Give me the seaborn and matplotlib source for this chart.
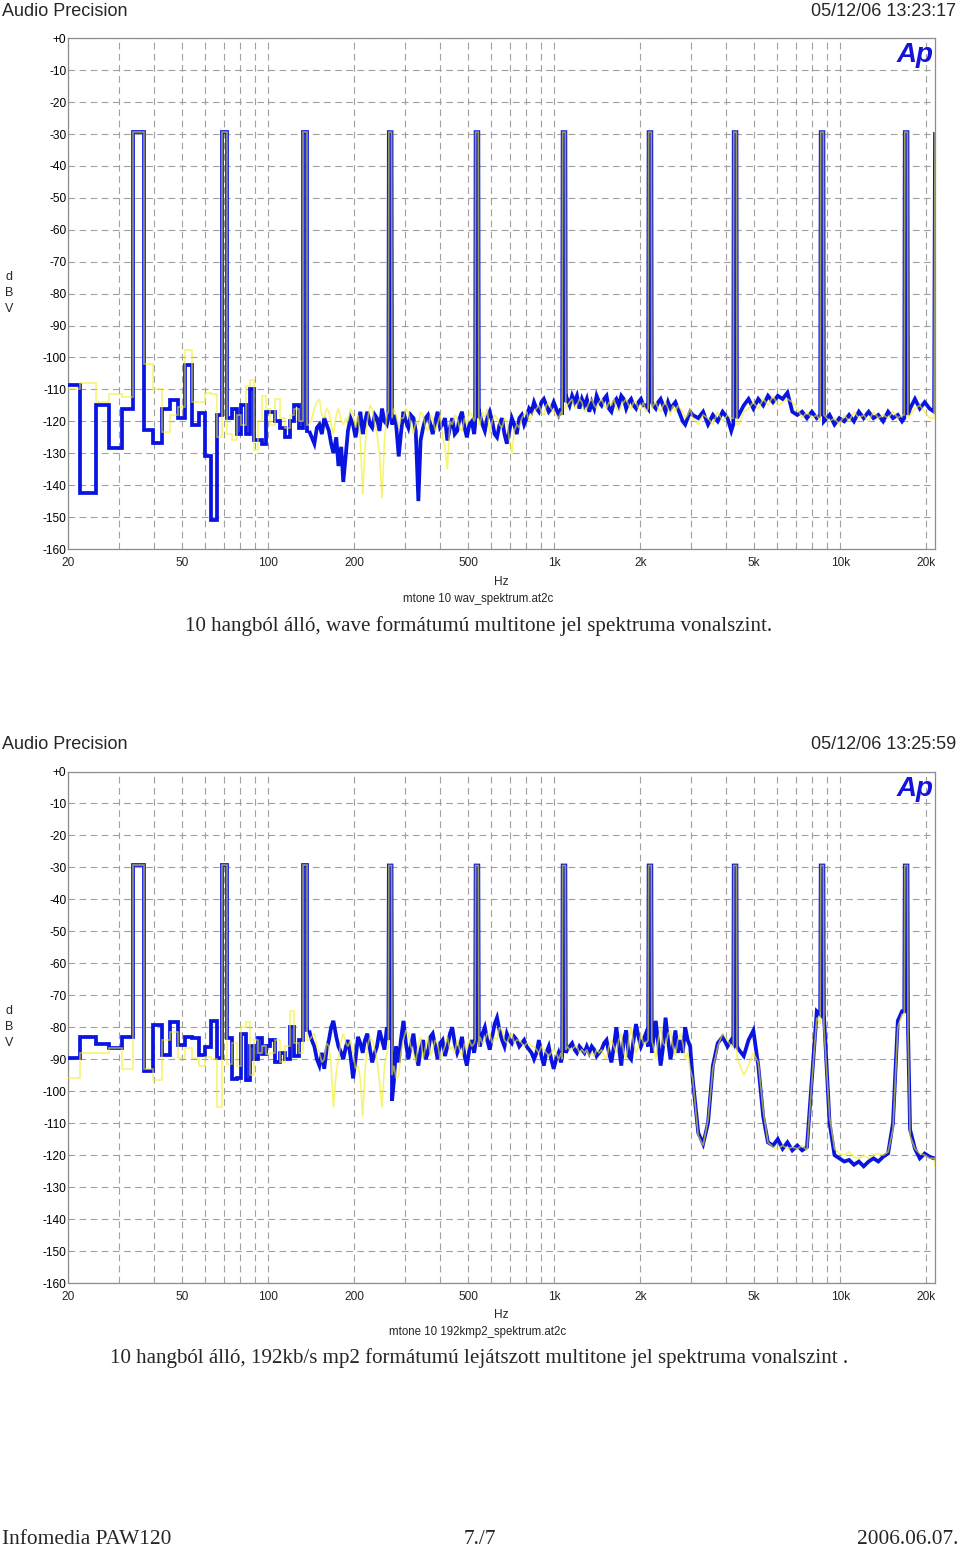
import numpy as np
import pandas as pd
import matplotlib
matplotlib.use('Agg')
import matplotlib.pyplot as plt
import matplotlib.ticker as mticker
import seaborn as sns

# ---------------- data ----------------
FREQ = [17.6, 20.5, 23.4, 26.4, 29.3, 32.2, 35.2, 38.1, 41.0, 43.9,
        46.9, 49.8, 52.7, 55.7, 58.6, 61.5, 64.5, 67.4, 70.3, 73.2,
        76.2, 79.1, 82.0, 85.0, 87.9, 90.8, 93.8, 96.7, 99.6, 104,
        108, 112, 117, 121, 126, 130, 134.8, 139,
        142, 145, 148, 151, 154, 157, 160, 163, 166, 169,
        173, 176, 180, 183, 187, 190, 194, 198, 202, 206,
        210, 214, 218, 222, 227, 231, 236, 240, 245, 250,
        255, 260, 263.1, 264.1, 269.9, 271.0, 275, 280, 286, 291,
        297, 303, 309, 315, 322, 328, 335, 341, 348, 355,
        362, 369, 376, 384, 391, 399, 407, 415, 423, 432,
        440, 449, 458, 467, 476, 486, 495, 505, 515, 525,
        529, 531.1, 542.9, 545, 550, 561, 572, 583, 595, 607,
        619, 631, 644, 657, 670, 683, 697, 711, 725, 740,
        755, 770, 785, 801, 817, 833, 850, 867, 884, 902,
        920, 938, 957, 976, 996, 1016, 1036, 1057, 1066, 1070.2,
        1093.9, 1098, 1110, 1132, 1155, 1178, 1201, 1225, 1250, 1275,
        1300, 1326, 1353, 1380, 1407, 1436, 1464, 1494, 1524, 1554,
        1585, 1617, 1649, 1682, 1716, 1750, 1785, 1821, 1857, 1894,
        1932, 1971, 2010, 2050, 2091, 2130, 2138.5, 2185.8, 2194, 2220,
        2265, 2310, 2356, 2403, 2451, 2500, 2550, 2601, 2653, 2706,
        2760, 2815, 2871, 2929, 2988, 3048, 3189, 3316, 3449, 3587,
        3730, 3880, 4035, 4160, 4227, 4243, 4337, 4355, 4420, 4600,
        4780, 4970, 5170, 5380, 5590, 5820, 6050, 6290, 6540, 6800,
        7080, 7360, 7650, 7960, 8280, 8512, 8546, 8735, 8770, 9180,
        9550, 9930, 10330, 10740, 11170, 11620, 12080, 12570, 13070, 13590,
        14130, 14700, 15290, 15900, 16450, 16749, 16815, 17187, 17255, 17550,
        18250, 18980, 19740, 20530, 21300, 21450]

WAV_BLUE = [-108.6, -108.6, -142.6, -115.0, -128.5, -116.2, -29.4, -122.7, -126.9, -116.2,
            -113.3, -118.9, -102.3, -121.2, -117.4, -130.9, -151.0, -118.0, -29.4, -119,
            -116, -124, -115, -124, -110, -126, -126, -127, -117, -117,
            -120, -122, -125, -120, -115, -122, -29.4, -123,
            -125, -127, -122, -121, -124, -119, -121, -123, -127, -130,
            -125, -134, -128, -139, -130, -123, -119, -121, -125, -121,
            -117, -124, -120, -117, -121, -122, -118, -119, -123, -116,
            -120, -121, -119, -29.4, -29.4, -121, -118, -121, -131, -124,
            -117, -120, -122, -118, -119, -123, -145, -126, -122, -119,
            -118, -121, -124, -120, -117, -122, -121, -119, -126, -122,
            -119, -124, -123, -119, -117, -122, -125, -121, -120, -124,
            -121, -29.4, -29.4, -119, -118, -121, -123, -119, -117, -120,
            -124, -125, -121, -119, -124, -127, -123, -119, -121, -124,
            -119, -118, -121, -119, -116, -117, -114, -116, -117, -114,
            -113, -115, -117, -116, -114, -116, -118, -116, -118, -29.4,
            -29.4, -114, -113, -115, -112, -114, -112, -116, -113, -115,
            -113, -117, -114, -116, -112, -114, -115, -113, -112, -116,
            -117, -114, -113, -115, -112, -113, -116, -114, -113, -115,
            -116, -114, -113, -115, -115, -116, -29.4, -29.4, -114, -115,
            -116, -114, -113, -115, -117, -114, -116, -115, -114, -116,
            -118, -120, -121, -119, -117, -118, -119, -117, -121, -118,
            -120, -117, -119, -123, -121, -29.4, -29.4, -119, -118, -115,
            -113, -116, -113, -115, -112, -114, -112, -113, -111, -117,
            -118, -117, -119, -117, -119, -118, -29.4, -29.4, -120, -118,
            -121, -119, -120, -118, -120, -117, -119, -117, -119, -118,
            -120, -117, -119, -118, -120, -119, -29.4, -29.4, -118, -116,
            -113, -116, -114, -116, -117, -29.4]

WAV_YELLOW = [-110, -110, -108, -113.8, -111.3, -112.5, -29.4, -102, -110, -123.3,
              -118, -115.5, -97.7, -113.8, -113.8, -111, -111.5, -125, -29.4, -124,
              -126, -118, -121, -109, -107, -129, -120, -112, -116, -121,
              -113, -119, -122, -118, -116, -120, -29.4, -121,
              -119, -116, -114, -113, -118, -119, -116, -117, -121, -124,
              -118, -116, -120, -121, -119, -120, -116, -118, -122, -118,
              -126, -143, -128, -120, -115, -116, -121, -124, -130, -144,
              -126, -118, -117, -29.4, -29.4, -119, -116, -118, -122, -119,
              -119, -116, -117, -121, -124, -120, -121, -117, -118, -122,
              -123, -118, -119, -123, -121, -118, -125, -128, -135, -120,
              -121, -118, -119, -122, -123, -119, -121, -117, -118, -120,
              -119, -29.4, -29.4, -121, -121, -117, -119, -116, -124, -120,
              -118, -119, -121, -122, -119, -120, -126, -130, -123, -121,
              -122, -119, -118, -117, -120, -118, -117, -116, -115, -117,
              -118, -115, -114, -116, -117, -118, -119, -117, -118, -29.4,
              -29.4, -116, -115, -114, -113, -116, -115, -113, -114, -117,
              -116, -114, -113, -115, -116, -114, -113, -115, -116, -114,
              -115, -113, -116, -117, -115, -114, -113, -115, -116, -114,
              -114, -116, -116, -114, -117, -116, -29.4, -29.4, -116, -115,
              -114, -116, -117, -115, -114, -116, -118, -115, -117, -115,
              -116, -117, -119, -118, -116, -119, -121, -118, -119, -121,
              -117, -120, -118, -119, -119, -29.4, -29.4, -121, -121, -117,
              -116, -114, -116, -113, -115, -112, -115, -114, -113, -114,
              -116, -119, -117, -119, -118, -120, -29.4, -29.4, -118, -120,
              -119, -121, -118, -120, -117, -119, -118, -120, -117, -119,
              -118, -119, -117, -119, -118, -118, -29.4, -29.4, -119, -118,
              -116, -115, -117, -119, -119, -29.4]

MP2_BLUE = [-89.7, -89.7, -82.9, -85.2, -86.6, -82.9, -29.4, -93.7, -79.3, -88.7,
            -78.3, -85.5, -83.2, -83.4, -88.7, -86.1, -78.0, -89.7, -29.4, -83.4,
            -96.3, -96.0, -82, -96.5, -86, -90, -83.5, -88.5, -86, -84,
            -91, -88, -90, -80, -89, -84, -29.4, -81,
            -84, -86, -90, -92, -88, -93, -87, -84, -80, -78,
            -83, -86, -88, -90, -86, -84, -89, -96, -90, -83,
            -85, -88, -84, -82, -87, -91, -88, -86, -81, -84,
            -87, -80, -84, -29.4, -29.4, -103, -97, -86, -91, -84,
            -78, -85, -90, -86, -82, -88, -92, -87, -84, -90,
            -88, -83, -82, -86, -90, -85, -84, -89, -86, -82,
            -80, -85, -88, -86, -83, -89, -92, -87, -84, -88,
            -86, -29.4, -29.4, -84, -86, -82, -80, -84, -87, -83,
            -79, -77, -81, -84, -86, -82, -84, -85, -83, -84,
            -86, -85, -84, -86, -87, -88, -90, -88, -84, -89,
            -92, -88, -86, -90, -93, -90, -88, -91, -89, -29.4,
            -29.4, -88, -87, -86, -85, -87, -88, -86, -87, -88,
            -86, -88, -86, -87, -89, -88, -87, -85, -84, -88,
            -91, -86, -80, -86, -92, -84, -81, -89, -90, -84,
            -79, -83, -86, -84, -82, -86, -29.4, -29.4, -88, -84,
            -78, -85, -92, -86, -77, -84, -90, -86, -81, -88,
            -84, -88, -80, -84, -86, -96, -113, -116.5, -110, -92,
            -85, -83, -86, -84, -85, -29.4, -29.4, -86, -87, -89,
            -84, -81, -92, -108, -116, -117, -115, -118, -116, -118.5,
            -117, -118.5, -117.5, -96, -75, -76, -29.4, -29.4, -76, -110,
            -120, -121, -122, -121.5, -123, -122, -123.5, -122, -121, -122,
            -120.5, -119.5, -110, -78, -75, -75, -29.4, -29.4, -80, -112,
            -118, -121, -119.5, -120.5, -121, -121]

MP2_YELLOW = [-96, -96, -88.2, -88.2, -86.6, -93.1, -29.4, -93, -96.5, -84,
              -81.4, -89.7, -86.5, -89.5, -92, -89.2, -90, -104.8, -29.4, -91.5,
              -85, -92, -80, -78.3, -95, -84, -88, -86, -88.5, -88,
              -84, -91, -86, -75, -85, -88, -29.4, -84,
              -83, -82, -86, -88, -91, -90, -85, -86, -92, -105,
              -94, -90, -84, -82, -85, -86, -84, -88, -93, -92,
              -96, -108, -94, -86, -83, -84, -87, -90, -97, -105,
              -92, -88, -86, -29.4, -29.4, -95, -92, -96, -95, -88,
              -84, -81, -82, -86, -88, -91, -85, -83, -90, -86,
              -83, -89, -87, -84, -85, -90, -88, -86, -83, -87,
              -86, -88, -84, -87, -89, -85, -87, -84, -86, -85,
              -84, -29.4, -29.4, -86, -83, -85, -84, -82, -82, -85,
              -83, -84, -80, -81, -84, -85, -83, -82, -85, -84,
              -84, -85, -86, -85, -85, -86, -86, -87, -88, -86,
              -87, -88, -89, -88, -87, -88, -90, -88, -90, -29.4,
              -29.4, -87, -86, -87, -87, -86, -86, -88, -87, -88,
              -87, -89, -88, -89, -87, -88, -87, -89, -90, -86,
              -84, -86, -88, -84, -82, -88, -90, -84, -80, -85,
              -88, -86, -82, -85, -85, -84, -29.4, -29.4, -84, -86,
              -90, -84, -80, -85, -86, -82, -81, -86, -89, -84,
              -82, -85, -90, -88, -93, -96, -114, -117, -109, -93,
              -86, -82, -84, -86, -86, -29.4, -29.4, -89, -91, -95,
              -92, -88, -91, -106, -116, -117.5, -118, -117, -118, -117.5,
              -118, -117, -118.5, -97, -77, -79, -29.4, -29.4, -80, -108,
              -118, -119.5, -120, -119, -120.5, -121, -120, -121, -120, -119.5,
              -120, -119, -112, -80, -76, -76, -29.4, -29.4, -80, -114,
              -118, -119.5, -120, -121, -121, -123.6]

YTICKS = [0, -10, -20, -30, -40, -50, -60, -70, -80, -90, -100, -110, -120, -130, -140, -150, -160]
YTICK_LABELS = ['+0', '-10', '-20', '-30', '-40', '-50', '-60', '-70', '-80', '-90',
                '-100', '-110', '-120', '-130', '-140', '-150', '-160']
XTICKS = [20, 50, 100, 200, 500, 1000, 2000, 5000, 10000, 20000]
XTICK_LABELS = ['20', '50', '100', '200', '500', '1k', '2k', '5k', '10k', '20k']

HEADER = 'Audio Precision'
DATES = ['05/12/06 13:23:17', '05/12/06 13:25:59']
FILES = ['mtone 10 wav_spektrum.at2c', 'mtone 10 192kmp2_spektrum.at2c']
CAPTIONS = ['10 hangból álló, wave formátumú multitone jel spektruma vonalszint.',
            '10 hangból álló, 192kb/s mp2 formátumú lejátszott multitone jel spektruma vonalszint .']
FOOTER = ['Infomedia PAW120', '7./7', '2006.06.07.']

for name, arr in [('WAV_BLUE', WAV_BLUE), ('WAV_YELLOW', WAV_YELLOW),
                  ('MP2_BLUE', MP2_BLUE), ('MP2_YELLOW', MP2_YELLOW)]:
    if len(arr) != len(FREQ):
        raise ValueError(f'{name}: {len(arr)} vs {len(FREQ)}')

# ---------------- style ----------------
sns.set_style('white')
plt.rcParams['font.family'] = ['Liberation Sans', 'DejaVu Sans']
SERIF = ['Liberation Serif', 'DejaVu Serif']

W, H = 960, 1547
fig = plt.figure(figsize=(W / 100, H / 100), dpi=100)
fig.patch.set_facecolor('white')


def fx(x):
    return x / W


def fy(y):
    return 1 - y / H


BLUE = '#0a14e0'
YELLOW = '#f2ee1c'
GRID = '#a0a0a0'
SPINE = '#8c8c8c'
AXL, AXR = 68.3, 935.0


def draw_panel(top_px, bottom_px, blue, yellow):
    ax = fig.add_axes([fx(AXL), fy(bottom_px), (AXR - AXL) / W, (bottom_px - top_px) / H])
    ax.set_xscale('log')
    df = pd.DataFrame({'freq': FREQ, 'blue': blue, 'yellow': yellow})
    low = df[df['freq'] <= 139]
    high = df[df['freq'] >= 139]
    specs = [('blue', BLUE, 2.7, 1.0, 3), ('yellow', YELLOW, 1.2, 0.62, 4)]
    for col, color, lw, alpha, z in specs:
        sns.lineplot(data=low, x='freq', y=col, ax=ax, color=color, lw=lw, alpha=alpha,
                     drawstyle='steps-mid', estimator=None, sort=False, legend=False,
                     zorder=z, solid_joinstyle='miter', solid_capstyle='butt')
        sns.lineplot(data=high, x='freq', y=col, ax=ax, color=color, lw=lw, alpha=alpha,
                     estimator=None, sort=False, legend=False,
                     zorder=z, solid_joinstyle='miter', solid_capstyle='butt')
    ax.set_xlim(20, 21450)
    ax.set_ylim(-160, 0)
    ax.set_xlabel('')
    ax.set_ylabel('')
    ax.set_yticks(YTICKS)
    ax.set_yticklabels(YTICK_LABELS)
    ax.yaxis.set_minor_locator(mticker.MultipleLocator(2))
    ax.set_xticks(XTICKS)
    ax.set_xticklabels(XTICK_LABELS)
    ax.xaxis.set_minor_locator(mticker.LogLocator(base=10, subs=np.arange(1, 10), numticks=50))
    ax.xaxis.set_minor_formatter(mticker.NullFormatter())
    ax.tick_params(axis='y', which='both', direction='in', length=3.2,
                   width=0.8, labelsize=8.6, pad=1.5, color=SPINE, labelcolor='black')
    ax.tick_params(axis='x', which='both', length=0, labelsize=8.6, pad=6)
    dash = (0, (6, 4))
    ax.grid(True, axis='x', which='both', color=GRID, lw=0.8, ls=dash)
    ax.grid(True, axis='y', which='major', color=GRID, lw=0.8, ls=dash)
    ax.set_axisbelow(True)
    for s in ax.spines.values():
        s.set_color(SPINE)
        s.set_linewidth(0.9)
    return ax


def header_and_labels(y_head, date, ap_y, dbv_y, hz_y, file_y, cap_y, fname, caption):
    fig.text(fx(2), fy(y_head), HEADER, ha='left', va='center', fontsize=13)
    fig.text(fx(956), fy(y_head), date, ha='right', va='center', fontsize=13)
    fig.text(fx(915), fy(ap_y), 'Ap', ha='center', va='center', fontsize=20,
             fontweight='bold', style='italic', color='#1414d8')
    fig.text(fx(9), fy(dbv_y), 'd\nB\nV', ha='center', va='center', fontsize=9, linespacing=1.45)
    fig.text(fx(501), fy(hz_y), 'Hz', ha='center', va='center', fontsize=8.6)
    fig.text(fx(478), fy(file_y), fname, ha='center', va='center', fontsize=8.3)
    fig.text(fx(479), fy(cap_y), caption, ha='center', va='center', fontsize=15.1, family=SERIF)


draw_panel(38.3, 549.0, WAV_BLUE, WAV_YELLOW)
header_and_labels(11, DATES[0], 55, 293, 582, 599, 626, FILES[0], CAPTIONS[0])

draw_panel(771.5, 1283.0, MP2_BLUE, MP2_YELLOW)
header_and_labels(744, DATES[1], 789, 1027, 1315, 1332, 1358, FILES[1], CAPTIONS[1])

fig.text(fx(2), fy(1540), FOOTER[0], ha='left', va='center', fontsize=15.4, family=SERIF)
fig.text(fx(480), fy(1540), FOOTER[1], ha='center', va='center', fontsize=15.4, family=SERIF)
fig.text(fx(958), fy(1540), FOOTER[2], ha='right', va='center', fontsize=15.4, family=SERIF)

fig.savefig('out.png', dpi=100, facecolor='white')
